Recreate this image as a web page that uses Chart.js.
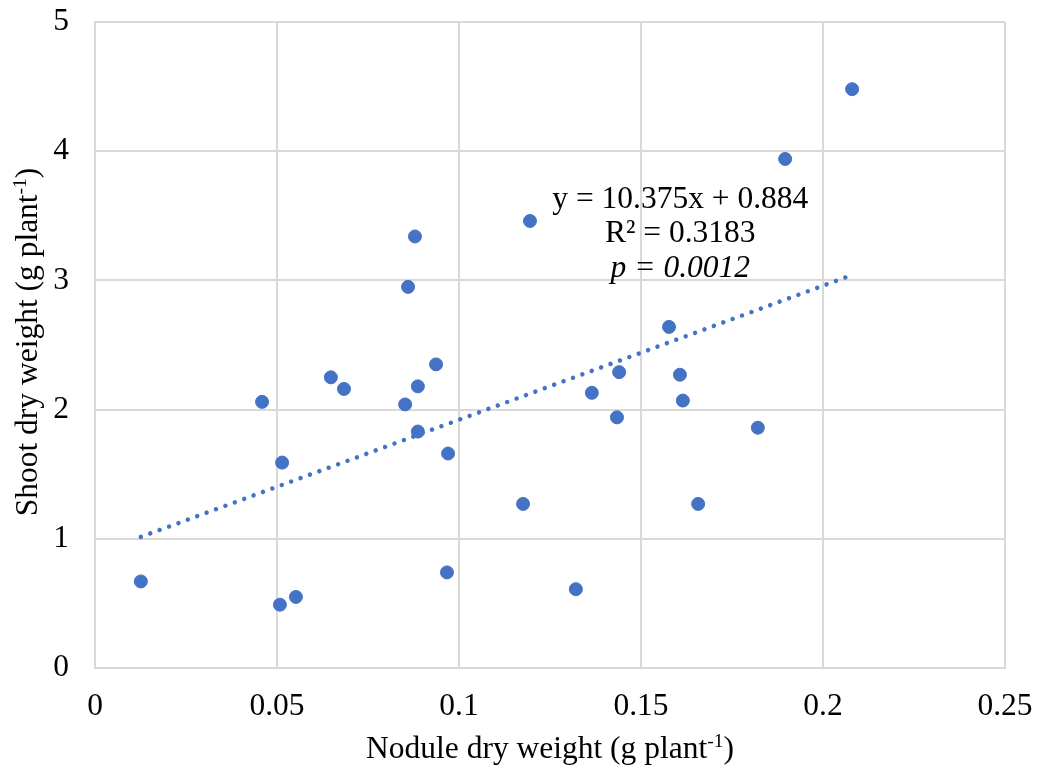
<!DOCTYPE html>
<html>
<head>
<meta charset="utf-8">
<script src="https://cdn.jsdelivr.net/npm/chart.js@4"></script>
<style>
  html, body { margin: 0; padding: 0; background: #fff; }
  #wrap { width: 1043px; height: 772px; }
</style>
</head>
<body>
<div id="wrap"><canvas id="scatter"></canvas></div>
<script>
// nodule dry weight (g/plant) and shoot dry weight (g/plant), one entry per plant
const nodule = [0.0126, 0.0459, 0.0514, 0.0508, 0.0552, 0.0648, 0.0684, 0.0852, 0.0860, 0.0879,
  0.0887, 0.0887, 0.0937, 0.0970, 0.0967, 0.1176, 0.1195, 0.1321, 0.1365, 0.1440,
  0.1434, 0.1577, 0.1607, 0.1615, 0.1657, 0.1821, 0.1896, 0.2080];
const shoot = [0.67, 2.06, 1.59, 0.49, 0.55, 2.25, 2.16, 2.04, 2.95, 3.34,
  2.18, 1.83, 2.35, 1.66, 0.74, 1.27, 3.46, 0.61, 2.13, 2.29,
  1.94, 2.64, 2.27, 2.07, 1.27, 1.86, 3.94, 4.48];

const xTicks = [0, 0.05, 0.1, 0.15, 0.2, 0.25];
const yTicks = [0, 1, 2, 3, 4, 5];

const slope = 10.375;
const intercept = 0.884;
const fitLines = ['y = 10.375x + 0.884', 'R² = 0.3183', 'p = 0.0012'];

const FONT = '"Liberation Serif", "Times New Roman", serif';
const SIZE = 31.5;
const BLUE = '#4472C4';
const GRID = '#d9d9d9';

const points = nodule.map((x, i) => ({ x, y: shoot[i] }));
const xMin = Math.min(...nodule);
const xMax = Math.max(...nodule);
const trend = [xMin, xMax].map((x) => ({ x, y: slope * x + intercept }));

// axis titles with a superscript unit exponent
function drawTitle(ctx, parts, size) {
  let width = 0;
  parts.forEach((p) => {
    ctx.font = (p.sup ? size * 0.62 : size) + 'px ' + FONT;
    p.w = ctx.measureText(p.t).width;
    width += p.w;
  });
  let x = -width / 2;
  parts.forEach((p) => {
    ctx.font = (p.sup ? size * 0.62 : size) + 'px ' + FONT;
    ctx.fillText(p.t, x, p.sup ? -size * 0.36 : 0);
    x += p.w;
  });
}

const labelsPlugin = {
  id: 'labels',
  afterDraw(chart) {
    const { ctx, scales } = chart;
    const xs = scales.x;
    const ys = scales.y;
    ctx.save();
    ctx.fillStyle = '#000';
    ctx.textBaseline = 'alphabetic';
    ctx.textAlign = 'left';

    ctx.save();
    ctx.translate(550, 758);
    drawTitle(ctx, [{ t: 'Nodule dry weight (g plant' }, { t: '-1', sup: true }, { t: ')' }], SIZE);
    ctx.restore();

    ctx.save();
    ctx.translate(37, 342);
    ctx.rotate(-Math.PI / 2);
    drawTitle(ctx, [{ t: 'Shoot dry weight (g plant' }, { t: '-1', sup: true }, { t: ')' }], SIZE);
    ctx.restore();

    // regression equation block
    const cx = xs.getPixelForValue(0.1608);
    const baseY = ys.getPixelForValue(3.56);
    ctx.textAlign = 'center';
    ctx.font = SIZE + 'px ' + FONT;
    ctx.fillText(fitLines[0], cx, baseY);
    ctx.fillText(fitLines[1], cx, baseY + 34);
    ctx.font = 'italic ' + SIZE + 'px ' + FONT;
    ctx.fillText(fitLines[2], cx, baseY + 69);
    ctx.restore();
  }
};

new Chart(document.getElementById('scatter'), {
  type: 'scatter',
  data: {
    datasets: [
      {
        data: points,
        backgroundColor: BLUE,
        borderColor: BLUE,
        pointRadius: 6.5,
        pointHoverRadius: 6.5,
        order: 2
      },
      {
        type: 'line',
        data: trend,
        borderColor: BLUE,
        borderWidth: 4.5,
        borderDash: [0.01, 10],
        borderCapStyle: 'round',
        pointRadius: 0,
        fill: false,
        order: 1
      }
    ]
  },
  options: {
    responsive: true,
    maintainAspectRatio: false,
    animation: false,
    events: [],
    layout: { padding: { left: 0, right: 38, top: 22, bottom: 0 } },
    plugins: {
      legend: { display: false },
      tooltip: { enabled: false }
    },
    scales: {
      x: {
        type: 'linear',
        min: 0,
        max: 0.25,
        afterFit(scale) {
          scale.height = 104;
          scale.paddingLeft = 0;
          scale.paddingRight = 0;
        },
        afterBuildTicks(scale) { scale.ticks = xTicks.map((v) => ({ value: v })); },
        grid: { color: GRID, lineWidth: 2, drawTicks: false },
        border: { color: GRID, width: 2 },
        ticks: {
          color: '#000',
          padding: 20,
          font: { family: FONT, size: SIZE },
          callback: (v) => String(v)
        }
      },
      y: {
        min: 0,
        max: 5,
        afterFit(scale) {
          scale.width = 95;
          scale.paddingTop = 0;
          scale.paddingBottom = 0;
        },
        afterBuildTicks(scale) { scale.ticks = yTicks.map((v) => ({ value: v })); },
        grid: { color: GRID, lineWidth: 2, drawTicks: false },
        border: { color: GRID, width: 2 },
        ticks: {
          color: '#000',
          padding: 26,
          font: { family: FONT, size: SIZE },
          callback: (v) => String(v)
        }
      }
    }
  },
  plugins: [labelsPlugin]
});
</script>
</body>
</html>
